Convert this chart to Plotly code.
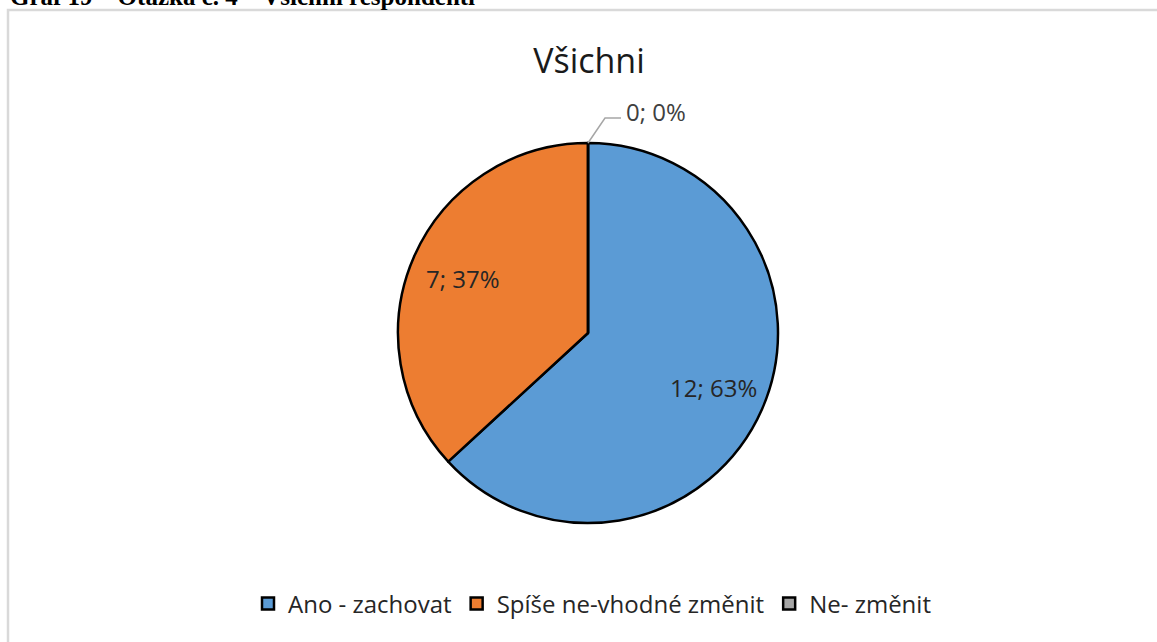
import math
import plotly.graph_objects as go

categories = ["Ano - zachovat", "Spíše ne-vhodné změnit", "Ne- změnit"]
values = [12, 7, 0]
colors = ["#5b9bd5", "#ed7d31", "#a5a5a5"]
title_text = "Všichni"
caption = "Graf 19 – Otázka č. 4 – Všichni respondenti"

total = sum(values)
labels_txt = [f"{v}; {round(100*v/total)}%" for v in values]

W, H = 1157, 642
cx, cy, r = 588, 333, 190

dom_x = [(cx - r) / W, (cx + r) / W]
dom_y = [1 - (cy + r) / H, 1 - (cy - r) / H]

fig = go.Figure(go.Pie(
    labels=categories,
    values=values,
    textinfo="none",
    sort=False,
    direction="clockwise",
    rotation=0,
    marker=dict(colors=colors, line=dict(color="black", width=2.5)),
    domain=dict(x=dom_x, y=dom_y),
    showlegend=True,
    automargin=False,
    hoverinfo="label+value+percent",
))

shapes = [
    dict(type="rect", xref="paper", yref="paper", x0=8 / W, x1=1.01, y0=-0.01, y1=1 - 10 / H,
         line=dict(color="#d9d9d9", width=2.5), fillcolor="rgba(0,0,0,0)"),
]
annotations = [
    dict(text="<b>" + caption + "</b>", xref="paper", yref="paper", x=8 / W, xanchor="left",
         y=1, yanchor="bottom", yshift=-12, showarrow=False,
         font=dict(family="Liberation Serif", size=25, color="black")),
]

# data labels placed along each slice's mid-angle (clockwise from 12 o'clock)
cum = 0.0
for t, v in zip(labels_txt, values):
    start = cum / total * 2 * math.pi
    cum += v
    end = cum / total * 2 * math.pi
    mid = (start + end) / 2
    if v > 0:
        rr = 0.72 * r
        px = cx + rr * math.sin(mid)
        py = cy - rr * math.cos(mid)
        annotations.append(dict(text=t, xref="paper", yref="paper", x=px / W, y=1 - py / H,
                                xanchor="center", yanchor="middle", showarrow=False,
                                font=dict(family="Open Sans", size=24, color="#262626")))
    else:
        # outside label with leader line
        ex = cx + r * math.sin(mid)
        ey = cy - r * math.cos(mid)
        kx, ky = ex + 17, ey - 25
        hx = kx + 16
        shapes.append(dict(type="path", xref="paper", yref="paper",
                           path=f"M {ex / W},{1 - ey / H} L {kx / W},{1 - ky / H} L {hx / W},{1 - ky / H}",
                           line=dict(color="#a6a6a6", width=1.5)))
        annotations.append(dict(text=t, xref="paper", yref="paper", x=(hx + 3) / W, xanchor="left",
                                y=1 - ky / H, yanchor="middle", yshift=7, showarrow=False,
                                font=dict(family="Open Sans", size=24, color="#404040")))

fig.update_layout(
    width=W, height=H,
    margin=dict(l=0, r=0, t=0, b=0),
    paper_bgcolor="white",
    plot_bgcolor="white",
    title=dict(text=title_text, x=589 / W, xanchor="center", y=1 - 61 / H, yanchor="middle",
               font=dict(family="Open Sans", size=34, color="#1a1a1a")),
    legend=dict(orientation="h", x=592 / W, xanchor="center", y=1 - 604 / H, yanchor="middle",
                font=dict(family="Open Sans", size=24, color="#262626"),
                traceorder="normal", itemwidth=30),
    shapes=shapes,
    annotations=annotations,
)

fig.write_html("out.html", post_script="document.body.style.margin='0';",
               config={"displayModeBar": False})
